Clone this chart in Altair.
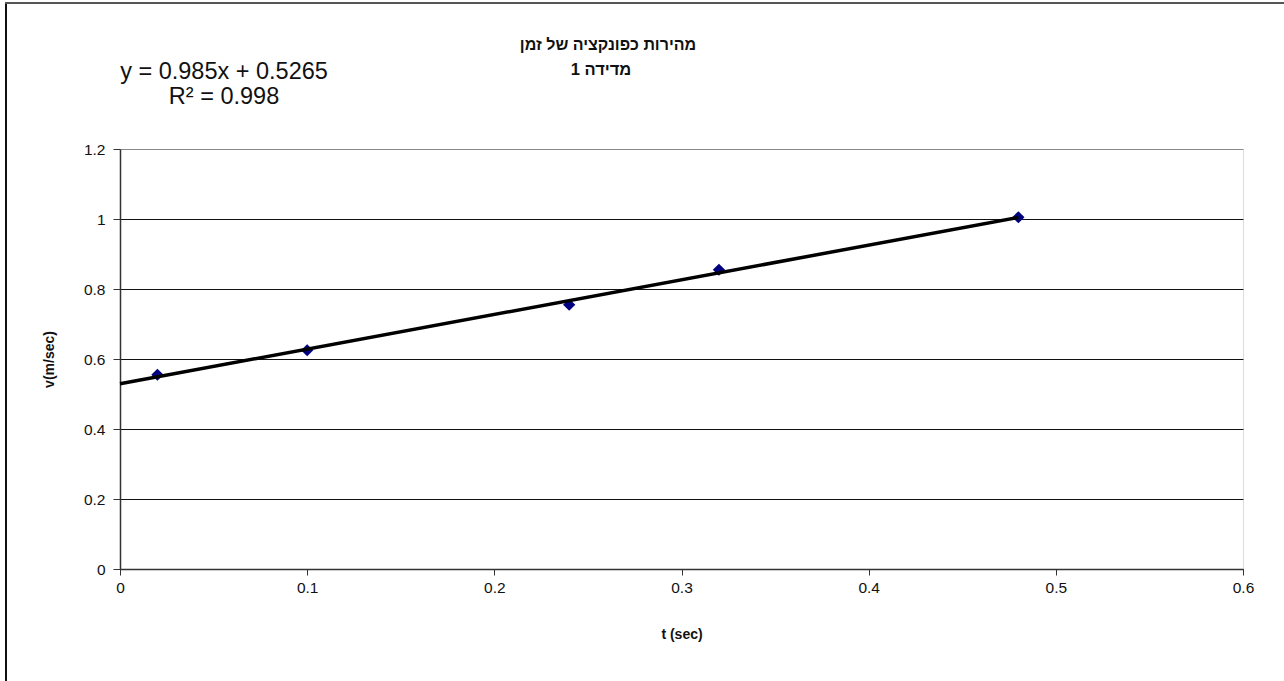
import altair as alt
import pandas as pd

# data
t_sec = [0.02, 0.1, 0.24, 0.32, 0.48]
v_ms = [0.555, 0.625, 0.755, 0.855, 1.005]

title_lines = ["מהירות כפונקציה של זמן", "מדידה 1"]
equation_lines = ["y = 0.985x + 0.5265", "R² = 0.998"]
x_title = "t (sec)"
y_title = "v(m/sec)"
x_ticks = [0, 0.1, 0.2, 0.3, 0.4, 0.5, 0.6]
y_ticks = [0, 0.2, 0.4, 0.6, 0.8, 1.0, 1.2]

FONT = "Liberation Sans"
W, H = 1123, 420
LEFT, TOP = 120, 149

df = pd.DataFrame({"t": t_sec, "v": v_ms})

xscale = alt.Scale(domain=[0, 0.6], nice=False, zero=False)
yscale = alt.Scale(domain=[0, 1.2], nice=False)

xaxis = alt.Axis(values=x_ticks, title=x_title, grid=False, tickSize=6, tickColor="#333",
                 domainColor="#333", domainWidth=1.5, labelFontSize=15.5, labelColor="#111",
                 labelPadding=5, titleFontSize=14, titleFontWeight="bold", titlePadding=32,
                 titleColor="#111", labelFlush=False, format="~g")
yaxis = alt.Axis(values=y_ticks, title=y_title, grid=True,
                 gridColor={"condition": {"test": "datum.value >= 1.19", "value": "#8a8a8a"}, "value": "#111"},
                 gridWidth=1, tickSize=7, tickColor="#333", domainColor="#333", domainWidth=1.5,
                 labelFontSize=15.5, labelColor="#111", labelPadding=8, titleFontSize=14,
                 titleFontWeight="bold", titlePadding=27, titleColor="#111", format="~g")

base = alt.Chart(df)

points = base.mark_point(shape="diamond", filled=True, size=150, color="#000080", opacity=1).encode(
    x=alt.X("t:Q", scale=xscale, axis=xaxis),
    y=alt.Y("v:Q", scale=yscale, axis=yaxis),
)

trend = base.transform_regression("t", "v", extent=[0, 0.48]).mark_line(
    color="black", strokeWidth=3.5
).encode(x=alt.X("t:Q", scale=xscale), y=alt.Y("v:Q", scale=yscale))

one = pd.DataFrame({"k": [0]})


def text_line(txt, cx, cy, size, weight="normal"):
    return alt.Chart(one).mark_text(
        font=FONT, fontSize=size, fontWeight=weight, align="center", baseline="middle",
        color="#111", text=txt
    ).encode(x=alt.value(cx - LEFT), y=alt.value(cy - TOP))


title1 = text_line(title_lines[0], 608, 45, 16, "bold")
title2 = text_line(title_lines[1], 601, 70, 16.5, "bold")
eq1 = text_line(equation_lines[0], 224, 72, 23.5)
eq2 = text_line(equation_lines[1], 224, 97, 23.5)

frame_left = alt.Chart(one).mark_rule(color="#111", strokeWidth=2).encode(
    x=alt.value(6 - LEFT), y=alt.value(2 - TOP), y2=alt.value(700 - TOP)
)
frame_top = alt.Chart(one).mark_rule(color="#555", strokeWidth=2).encode(
    x=alt.value(5 - LEFT), x2=alt.value(1300 - LEFT), y=alt.value(3 - TOP)
)

chart = alt.layer(points, trend, title1, title2, eq1, eq2, frame_left, frame_top).properties(
    width=W, height=H,
    autosize=alt.AutoSizeParams(type="none"),
    padding={"left": LEFT, "top": TOP, "right": 1284 - LEFT - W, "bottom": 681 - TOP - H},
    background="white",
).configure_view(stroke="#8a8a8a", strokeWidth=1.5).configure(font=FONT)

chart.save("out.html", embed_options={"renderer": "svg", "actions": False})
